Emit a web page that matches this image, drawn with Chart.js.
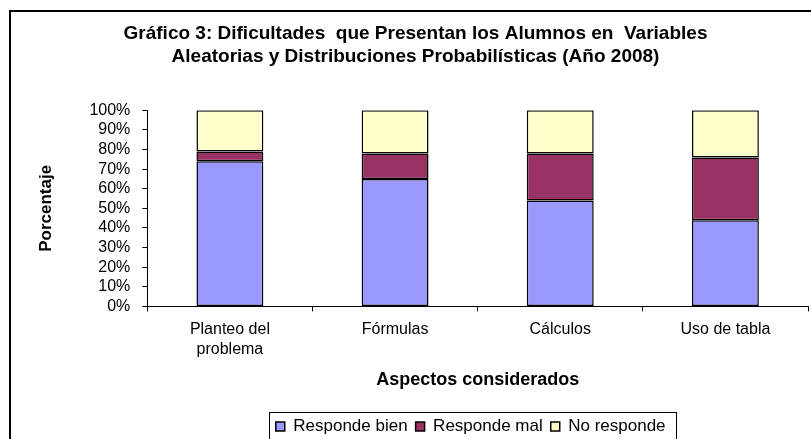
<!DOCTYPE html>
<html>
<head>
<meta charset="utf-8">
<script src="https://cdn.jsdelivr.net/npm/chart.js@4"></script>
<style>
    body { margin: 0; background: #fff; }
    #wrap { width: 811px; height: 439px; }
</style>
</head>
<body>
<div id="wrap"><canvas id="chart" width="811" height="439"></canvas></div>
<script>
const categories = [['Planteo del', 'problema'], 'Fórmulas', 'Cálculos', 'Uso de tabla'];
const respondeBien = [74, 65, 54, 44];
const respondeMal = [5, 13, 24, 32];
const noResponde = [21, 22, 22, 24];
const seriesNames = ['Responde bien', 'Responde mal', 'No responde'];
const yTicks = [0, 10, 20, 30, 40, 50, 60, 70, 80, 90, 100];

const FONT = "'Liberation Sans', Arial, sans-serif";

// white page + outer frame like the excel chart area
const framePlugin = {
    id: 'frame',
    beforeDraw(chart) {
        const ctx = chart.ctx;
        ctx.save();
        ctx.fillStyle = '#fff';
        ctx.fillRect(0, 0, chart.width, chart.height);
        ctx.restore();
    },
    afterDraw(chart) {
        const ctx = chart.ctx;
        ctx.save();
        ctx.strokeStyle = '#000';
        ctx.lineWidth = 2;
        ctx.strokeRect(10, 11, chart.width + 10, chart.height + 10);
        ctx.restore();
    }
};

// box around the legend, nudged a little left like the original
const legendBoxPlugin = {
    id: 'legendBox',
    afterLayout(chart) {
        chart.legend.left -= 7;
        chart.legend.right -= 7;
    },
    afterDraw(chart) {
        const boxes = chart.legend.legendHitBoxes;
        if (!boxes || !boxes.length) return;
        const left = Math.min(...boxes.map(b => b.left)) - 7;
        const right = Math.max(...boxes.map(b => b.left + b.width)) + 10;
        const top = Math.min(...boxes.map(b => b.top)) - 6;
        const bottom = Math.max(...boxes.map(b => b.top + b.height)) + 6;
        const ctx = chart.ctx;
        ctx.save();
        ctx.strokeStyle = '#000';
        ctx.lineWidth = 1;
        ctx.strokeRect(Math.round(left) + 0.5, Math.round(top) + 0.5, Math.round(right - left), Math.round(bottom - top));
        ctx.restore();
    }
};

const ctx = document.getElementById('chart').getContext('2d');
new Chart(ctx, {
    type: 'bar',
    data: {
        labels: categories,
        datasets: [
            { label: seriesNames[0], data: respondeBien, backgroundColor: '#9999FF' },
            { label: seriesNames[1], data: respondeMal, backgroundColor: '#993366' },
            { label: seriesNames[2], data: noResponde, backgroundColor: '#FFFFCC' }
        ].map(d => Object.assign(d, {
            borderColor: '#000',
            borderWidth: 1.5,
            borderSkipped: false,
            categoryPercentage: 1,
            barPercentage: 0.405
        }))
    },
    options: {
        responsive: false,
        animation: false,
        devicePixelRatio: 1,
        layout: { padding: { left: 23, right: 3, top: 0, bottom: -6 } },
        plugins: {
            title: {
                display: true,
                text: ['Gráfico 3: Dificultades  que Presentan los Alumnos en  Variables',
                       'Aleatorias y Distribuciones Probabilísticas (Año 2008)'],
                color: '#000',
                font: { family: FONT, size: 19, weight: 'bold', lineHeight: 1.22 },
                padding: { top: 22, bottom: 42 }
            },
            legend: {
                position: 'bottom',
                fullSize: false,
                labels: {
                    color: '#000',
                    font: { family: FONT, size: 17 },
                    boxWidth: 9,
                    boxHeight: 9,
                    padding: 8
                }
            },
            tooltip: { enabled: false }
        },
        scales: {
            x: {
                stacked: true,
                border: { color: '#000', width: 1 },
                grid: { offset: true, drawOnChartArea: false, tickLength: 5, color: '#000' },
                ticks: { color: '#000', font: { family: FONT, size: 16, lineHeight: 1.25 }, padding: 8, maxRotation: 0 },
                title: {
                    display: true,
                    text: 'Aspectos considerados',
                    color: '#000',
                    font: { family: FONT, size: 18, weight: 'bold' },
                    padding: { top: 2, bottom: 19 }
                }
            },
            y: {
                stacked: true,
                min: 0,
                max: 100,
                afterBuildTicks: axis => { axis.ticks = yTicks.map(v => ({ value: v })); },
                border: { color: '#000', width: 1 },
                grid: { drawOnChartArea: false, tickLength: 5, color: '#000' },
                ticks: { color: '#000', font: { family: FONT, size: 16 }, padding: 12, autoSkip: false, callback: v => v + '%' },
                title: {
                    display: true,
                    text: 'Porcentaje',
                    color: '#000',
                    font: { family: FONT, size: 17, weight: 'bold' },
                    padding: { top: 13, bottom: 21 }
                }
            }
        }
    },
    plugins: [framePlugin, legendBoxPlugin]
});
</script>
</body>
</html>
